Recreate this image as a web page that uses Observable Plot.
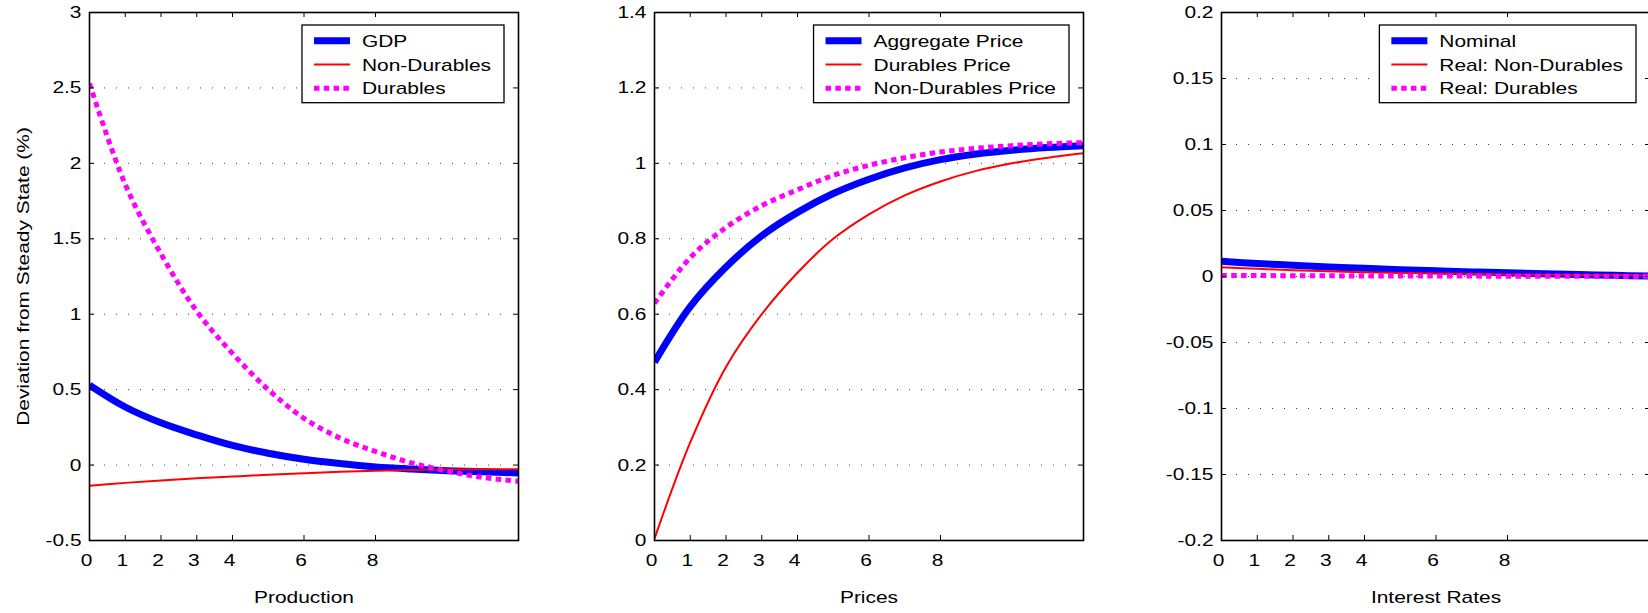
<!DOCTYPE html>
<html>
<head>
<meta charset="utf-8">
<script src="https://cdn.jsdelivr.net/npm/d3@7"></script>
<script src="https://cdn.jsdelivr.net/npm/@observablehq/plot@0.6"></script>
<style>
  html, body { margin: 0; padding: 0; background: #fff; overflow: hidden; }
  #wrap { position: relative; width: 1648px; height: 613px; overflow: hidden; background: #fff; }
  #wrap > svg { position: absolute; top: 0; }
</style>
</head>
<body>
<div id="wrap"></div>
<script>
// ---- data ----
const t = [0, 1, 2, 3, 4, 5, 6, 7, 8, 9, 10, 11, 12];
const xTicks = [0, 1, 2, 3, 4, 6, 8];

// Panel 1: Production
const gdp         = [0.53, 0.385, 0.28, 0.20, 0.13, 0.078, 0.038, 0.01, -0.012, -0.026, -0.037, -0.045, -0.052];
const nonDurables = [-0.137, -0.118, -0.102, -0.088, -0.076, -0.064, -0.054, -0.045, -0.037, -0.032, -0.029, -0.028, -0.027];
const durables    = [2.53, 1.86, 1.40, 1.02, 0.74, 0.50, 0.31, 0.18, 0.09, 0.015, -0.04, -0.082, -0.107];
const yTicks1 = [-0.5, 0, 0.5, 1, 1.5, 2, 2.5, 3];

// Panel 2: Prices
const aggregatePrice   = [0.473, 0.62, 0.725, 0.808, 0.87, 0.92, 0.958, 0.988, 1.01, 1.025, 1.035, 1.042, 1.047];
const durablesPrice    = [0.005, 0.26, 0.46, 0.60, 0.71, 0.80, 0.865, 0.915, 0.952, 0.98, 1.0, 1.015, 1.027];
const nonDurablesPrice = [0.629, 0.75, 0.83, 0.888, 0.93, 0.968, 0.995, 1.015, 1.03, 1.04, 1.047, 1.052, 1.055];
const yTicks2 = [0, 0.2, 0.4, 0.6, 0.8, 1, 1.2, 1.4];

// Panel 3: Interest Rates
const nominal          = [0.0115, 0.0098, 0.0085, 0.0072, 0.0062, 0.0052, 0.0043, 0.0035, 0.0028, 0.0021, 0.0015, 0.0009, 0.0003];
const realNonDurables  = [0.007, 0.0058, 0.0048, 0.004, 0.0033, 0.0027, 0.0023, 0.0019, 0.0016, 0.0014, 0.0012, 0.0011, 0.001];
const realDurables     = [0.0008, 0.0007, 0.0006, 0.0005, 0.0004, 0.0004, 0.0003, 0.0003, 0.0002, 0.0002, 0.0002, 0.0001, 0.0001];
const yTicks3 = [-0.2, -0.15, -0.1, -0.05, 0, 0.05, 0.1, 0.15, 0.2];

const xTitles = ["Production", "Prices", "Interest Rates"];
const yTitle = "Deviation from Steady State (%)";
const legends = [
  ["GDP", "Non-Durables", "Durables"],
  ["Aggregate Price", "Durables Price", "Non-Durables Price"],
  ["Nominal", "Real: Non-Durables", "Real: Durables"]
];

// ---- styles ----
const FONT = "Liberation Sans, Arial, Helvetica, sans-serif";
const FS = 17;
const STRETCH = 1.23; // the reference lettering is wide
const styles = [
  {stroke: "#0000ff", strokeWidth: 7, strokeDasharray: null},
  {stroke: "#ff0000", strokeWidth: 2, strokeDasharray: null},
  {stroke: "#ff00ff", strokeWidth: 5, strokeDasharray: "5.5,4.3"}
];

const panels = [
  {series: [gdp, nonDurables, durables], yTicks: yTicks1, title: xTitles[0], legend: legends[0], ylab: true},
  {series: [aggregatePrice, durablesPrice, nonDurablesPrice], yTicks: yTicks2, title: xTitles[1], legend: legends[1], ylab: false},
  {series: [nominal, realNonDurables, realDurables], yTicks: yTicks3, title: xTitles[2], legend: legends[2], ylab: false}
];

const W = 565, H = 613, ML = 89, MR = 47, MT = 12, MB = 73;
const PW = W - ML - MR, PH = H - MT - MB;
const lefts = [0, 565, 1132];
const TL = 5;

const wrap = document.getElementById("wrap");

function stretchText(el) {
  const L = el.getComputedTextLength();
  if (L > 0) {
    el.setAttribute("textLength", (L * STRETCH).toFixed(2));
    el.setAttribute("lengthAdjust", "spacingAndGlyphs");
  }
  return L * STRETCH;
}

panels.forEach((p, k) => {
  const yDom = [p.yTicks[0], p.yTicks[p.yTicks.length - 1]];
  const lineMarks = p.series.map((s, j) =>
    Plot.line(t.map((x, i) => ({x, y: s[i]})), {
      x: "x", y: "y",
      stroke: styles[j].stroke,
      strokeWidth: styles[j].strokeWidth,
      strokeDasharray: styles[j].strokeDasharray,
      strokeLinecap: "butt",
      strokeLinejoin: "round",
      curve: "catmull-rom",
      clip: true
    })
  );
  const marks = [
    Plot.ruleY(p.yTicks, {y: d => d, stroke: "#000", strokeOpacity: 0.75, strokeWidth: 1, strokeDasharray: "1,11", insetLeft: 3, insetRight: 8}),
    ...lineMarks,
    Plot.frame({stroke: "#000", strokeWidth: 1.6}),
    Plot.ruleX(xTicks, {x: d => d, stroke: "#000", strokeWidth: 1, insetTop: PH - TL}),
    Plot.ruleX(xTicks, {x: d => d, stroke: "#000", strokeWidth: 1, insetBottom: PH - TL}),
    Plot.ruleY(p.yTicks, {y: d => d, stroke: "#000", strokeWidth: 1, insetRight: PW - TL}),
    Plot.ruleY(p.yTicks, {y: d => d, stroke: "#000", strokeWidth: 1, insetLeft: PW - TL}),
    Plot.axisX({ticks: xTicks, tickSize: 0, tickPadding: 13, dx: -3, tickFormat: d => String(d), label: null, fontSize: FS}),
    Plot.axisY({ticks: p.yTicks, tickSize: 0, tickPadding: 8, tickFormat: d => String(d), label: null, fontSize: FS}),
    Plot.text([p.title], {text: d => d, frameAnchor: "bottom", lineAnchor: "middle", textAnchor: "middle", dy: 57, fontSize: FS, fill: "#000"})
  ];
  if (p.ylab) {
    marks.push(Plot.text([yTitle], {text: d => d, frameAnchor: "left", textAnchor: "middle", lineAnchor: "middle", dx: -66, rotate: -90, fontSize: FS, fill: "#000"}));
  }
  const svg = Plot.plot({
    width: W, height: H,
    marginLeft: ML, marginRight: MR, marginTop: MT, marginBottom: MB,
    style: {fontFamily: FONT, fontSize: FS + "px", background: "transparent", color: "#000", overflow: "visible"},
    x: {domain: [0, 12]},
    y: {domain: yDom},
    marks
  });
  svg.style.left = lefts[k] + "px";
  wrap.appendChild(svg);

  // widen all Plot texts like the reference lettering
  svg.querySelectorAll("text").forEach(stretchText);

  // legend box inside the frame, top-right
  const g = d3.select(svg).append("g")
    .attr("font-family", FONT).attr("font-size", FS).attr("text-anchor", "start");
  const rect = g.append("rect");
  const rowY0 = MT + 13 + 15.7, rowDy = 23.8;
  const texts = p.legend.map((name, j) =>
    g.append("text").text(name).attr("y", rowY0 + j * rowDy).attr("dy", "0.36em")
      .attr("fill", "#000").attr("text-anchor", "start")
  );
  const maxW = d3.max(texts, tx => stretchText(tx.node()));
  const boxW = 12 + 36 + 12 + maxW + 13;
  const boxRight = W - MR - 14;
  const boxLeft = boxRight - boxW;
  const boxTop = MT + 13, boxH = 77.7;
  rect.attr("x", boxLeft).attr("y", boxTop).attr("width", boxW).attr("height", boxH)
      .attr("fill", "#fff").attr("stroke", "#000").attr("stroke-width", 1.3);
  texts.forEach(tx => tx.attr("x", boxLeft + 60));
  p.legend.forEach((name, j) => {
    g.append("line")
      .attr("x1", boxLeft + 12).attr("x2", boxLeft + 48)
      .attr("y1", rowY0 + j * rowDy).attr("y2", rowY0 + j * rowDy)
      .attr("stroke", styles[j].stroke)
      .attr("stroke-width", styles[j].strokeWidth)
      .attr("stroke-dasharray", styles[j].strokeDasharray)
      .attr("stroke-linecap", "butt");
  });
});
</script>
</body>
</html>
